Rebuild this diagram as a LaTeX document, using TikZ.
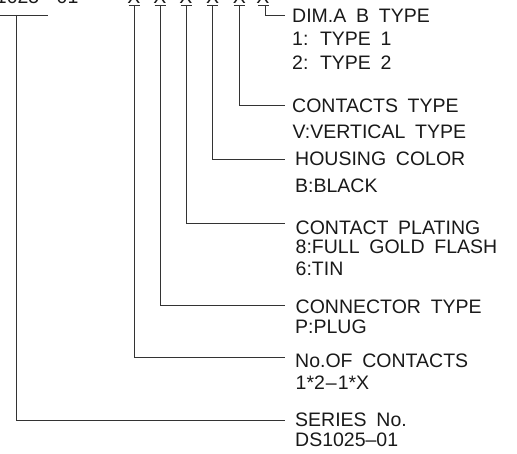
\documentclass[tikz,border=0pt]{standalone}
\usepackage{fontspec}
\setmainfont{Liberation Sans}[WordSpace=1.8]
\tikzset{
  lbl/.style={anchor=base west, inner sep=0pt, font=\fontsize{19.5}{22}\selectfont, text=black!90},
  xmk/.style={anchor=base, inner sep=0pt, font=\fontsize{19.5}{22}\selectfont, text=black!90},
  lead/.style={draw=black!80, line width=0.9pt},
}
\begin{document}
\begin{tikzpicture}[x=1pt,y=-1pt]
\useasboundingbox (0,0) rectangle (517,454);
\clip (0,0) rectangle (517,454);
% part number (cut at top)
\node[lbl, anchor=base east] (pre) at (39.5,4) {DS1025};
\node[lbl] (suf) at (45,4) {-\hspace{5pt}01};
\draw[lead] (0,15) -- (48,15);
\node[xmk] (x1) at (134,4) {X};
\node[xmk] (x2) at (160,4) {X};
\node[xmk] (x3) at (186,4) {X};
\node[xmk] (x4) at (212.7,4) {X};
\node[xmk] (x5) at (239.3,4) {X};
\node[xmk] (x6) at (263,4) {X};
\coordinate (u0) at (16,15);
\coordinate (u1) at (134,5);
\coordinate (u2) at (160,5);
\coordinate (u3) at (186,5);
\coordinate (u4) at (212.7,5);
\coordinate (u5) at (239.3,5);
\coordinate (u6) at (265.7,5);
\foreach \c in {u1,u2,u3,u4,u5} {\draw[lead] (\c) ++(-5.5,0) -- ++(11,0);}
\draw[lead] (258,5) -- (268.5,5);
% leader ends
\coordinate (e0) at (285,420);
\coordinate (e1) at (285,357);
\coordinate (e2) at (285,305);
\coordinate (e3) at (285,223);
\coordinate (e4) at (285,159);
\coordinate (e5) at (285,105);
\coordinate (e6) at (285,15);
\draw[lead] (u0) |- (e0);
\draw[lead] (u1) |- (e1);
\draw[lead] (u2) |- (e2);
\draw[lead] (u3) |- (e3);
\draw[lead] (u4) |- (e4);
\draw[lead] (u5) |- (e5);
\draw[lead] (u6) |- (e6);
% texts
\node[lbl] (t6a) at (292,22.7) {DIM.A B TYPE};
\node[lbl] (t6b) at (292,46) {1: TYPE 1};
\node[lbl] (t6c) at (292,69.3) {2: TYPE 2};
\node[lbl] (t5a) at (292,112.7) {CONTACTS TYPE};
\node[lbl] (t5b) at (292.5,138.3) {V:VERTICAL TYPE};
\node[lbl] (t4a) at (295,166) {HOUSING COLOR};
\node[lbl] (t4b) at (295,192.7) {B:BLACK};
\node[lbl] (t3a) at (295.5,234.3) {CONTACT PLATING};
\node[lbl] (t3b) at (295.5,254) {8:FULL GOLD FLASH};
\node[lbl] (t3c) at (295.5,275.7) {6:TIN};
\node[lbl] (t2a) at (295.5,314) {CONNECTOR TYPE};
\node[lbl] (t2b) at (295,333.3) {P:PLUG};
\node[lbl] (t1a) at (295,367.3) {No.OF CONTACTS};
\node[lbl] (t1b) at (295.5,390) {1*2\hspace{1pt}\textendash\hspace{1pt}1*X};
\node[lbl] (t0a) at (295,426.7) {SERIES No.};
\node[lbl] (t0b) at (295,446.7) {DS1025\textendash 01};
\end{tikzpicture}
\end{document}
